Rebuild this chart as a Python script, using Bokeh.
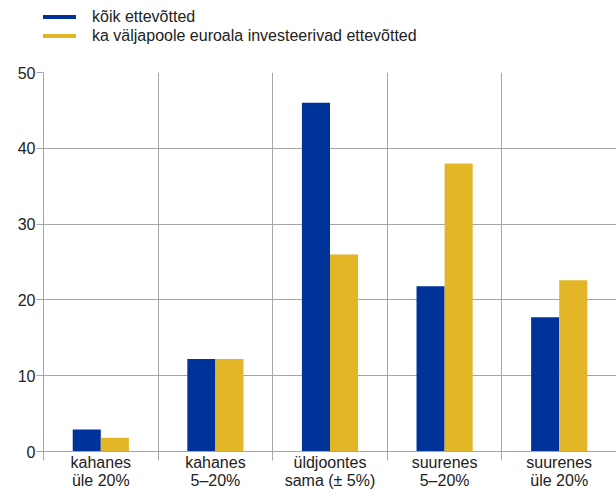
from bokeh.plotting import figure
from bokeh.layouts import column
from bokeh.models import FixedTicker, Legend, LegendItem, ColumnDataSource, Range1d
from bokeh.embed import file_html
from bokeh.resources import INLINE

categories = ["kahanes\nüle 20%", "kahanes\n5–20%", "üldjoontes\nsama (± 5%)", "suurenes\n5–20%", "suurenes\nüle 20%"]
series_names = ["kõik ettevõtted", "ka väljapoole euroala investeerivad ettevõtted"]
all_firms = [2.9, 12.2, 46.0, 21.8, 17.7]
outside_ea = [1.8, 12.2, 26.0, 38.0, 22.6]
y_ticks = [0, 10, 20, 30, 40, 50]

BLUE = "#003399"
YELLOW = "#e2b626"
GRID = "#a6a6a6"
FONT = "Liberation Sans"
FS = "16px"

n = len(categories)
centers = [i + 0.5 for i in range(n)]
bw = 0.245

src = ColumnDataSource(dict(
    xb=[c - bw / 2 for c in centers],
    xy=[c + bw / 2 for c in centers],
    a=all_firms,
    b=outside_ea,
))

FW, FH = 573, 379
p = figure(frame_width=FW, frame_height=FH, output_backend="svg", toolbar_location=None,
           x_range=Range1d(0, n), y_range=Range1d(0, 50),
           min_border_left=43, min_border_right=0, min_border_top=8, min_border_bottom=44)
p.outline_line_color = None
p.background_fill_color = "white"
p.border_fill_color = "white"

r1 = p.vbar(x="xb", top="a", width=bw, source=src, color=BLUE, line_color=None)
r2 = p.vbar(x="xy", top="b", width=bw, source=src, color=YELLOW, line_color=None)

# x axis
xa = p.xaxis[0]
xa.ticker = FixedTicker(ticks=centers, minor_ticks=list(range(n + 1)))
xa.major_label_overrides = {c: lab for c, lab in zip(centers, categories)}
xa.major_tick_line_color = None
xa.major_tick_out = 0
xa.major_tick_in = 0
xa.minor_tick_line_color = GRID
xa.minor_tick_out = 9
xa.minor_tick_in = 0
xa.axis_line_color = GRID
xa.major_label_text_font = FONT
xa.major_label_text_font_size = FS
xa.major_label_text_color = "#222222"
xa.major_label_standoff = -7
xa.major_label_text_line_height = 1.1

p.xgrid.ticker = FixedTicker(ticks=list(range(n + 1)))
p.xgrid.grid_line_color = GRID
p.xgrid.grid_line_width = 1

# y axis
ya = p.yaxis[0]
ya.ticker = FixedTicker(ticks=y_ticks)
ya.minor_tick_line_color = None
ya.major_tick_line_color = GRID
ya.major_tick_out = 7
ya.major_tick_in = 0
ya.axis_line_color = GRID
ya.major_label_text_font = FONT
ya.major_label_text_font_size = FS
ya.major_label_text_color = "#222222"
ya.major_label_standoff = 1
p.ygrid.grid_line_color = GRID
p.ygrid.grid_line_width = 1

# legend strip above the chart
LH = 64
lg = figure(frame_width=FW, frame_height=LH, output_backend="svg", toolbar_location=None,
            x_range=Range1d(0, 1), y_range=Range1d(0, 1),
            x_axis_location=None, y_axis_location=None,
            min_border_left=43, min_border_right=0, min_border_top=0, min_border_bottom=0)
lg.outline_line_color = None
lg.grid.visible = False
l1 = lg.line(x=[0, 0], y=[-10, -10], line_color=BLUE, line_width=4)
l2 = lg.line(x=[0, 0], y=[-10, -10], line_color=YELLOW, line_width=4)
legend = Legend(items=[LegendItem(label=series_names[0], renderers=[l1]),
                       LegendItem(label=series_names[1], renderers=[l2])],
                location=(-1, LH - 45), orientation="vertical",
                padding=0, margin=0, spacing=0,
                glyph_width=34, glyph_height=19, label_height=19,
                label_standoff=16,
                label_text_font=FONT, label_text_font_size=FS,
                label_text_color="#222222",
                background_fill_alpha=0, border_line_color=None)
lg.add_layout(legend, "center")

layout = column(lg, p, spacing=0)
open("out.html", "w").write(file_html(layout, INLINE))
